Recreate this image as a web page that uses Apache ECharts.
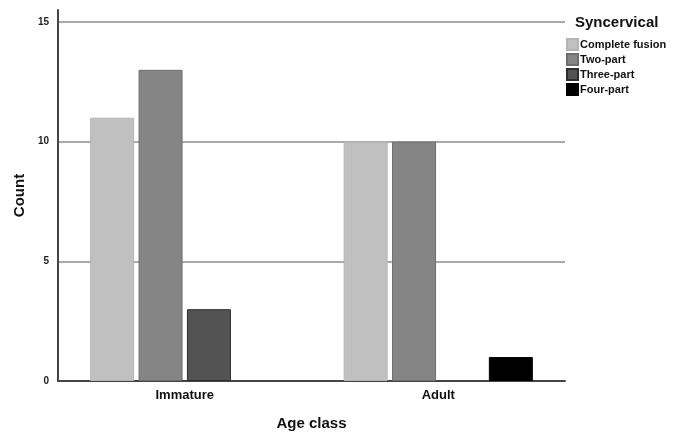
<!DOCTYPE html>
<html>
<head>
<meta charset="utf-8">
<script src="https://cdn.jsdelivr.net/npm/echarts@6/dist/echarts.min.js"></script>
<style>
  html, body { margin: 0; padding: 0; background: #fff; }
</style>
</head>
<body>
<div id="chart" style="width: 677px;height: 436px"></div>
<script>
  const categories = ['Immature', 'Adult'];
  const seriesNames = ['Complete fusion', 'Two-part', 'Three-part', 'Four-part'];
  const completeFusion = [11, 10];
  const twoPart = [13, 10];
  const threePart = [3, 0];
  const fourPart = [0, 1];
  const yTicks = [0, 5, 10, 15];

  const colors = ['#c0c0c0', '#858585', '#535353', '#000000'];
  const borders = ['#b4b4b4', '#6e6e6e', '#2e2e2e', '#000000'];
  const values = [completeFusion, twoPart, threePart, fourPart];

  let chart = echarts.init(document.getElementById('chart'));

  let option = {
    animation: false,
    textStyle: { fontFamily: 'Liberation Sans, Arial, sans-serif' },
    title: {
      text: 'Syncervical',
      left: 570,
      top: 10,
      textStyle: { fontSize: 15, fontWeight: 'bold', color: '#111' }
    },
    legend: {
      data: seriesNames,
      orient: 'vertical',
      left: 561,
      top: 33,
      itemWidth: 11,
      itemHeight: 11,
      itemGap: 2,
      icon: 'rect',
      textStyle: { fontSize: 11, fontWeight: 'bold', color: '#111', padding: [0, 0, 0, -3] }
    },
    grid: {
      left: 58,
      right: 112,
      top: 10,
      bottom: 50
    },
    xAxis: {
      type: 'category',
      data: categories,
      name: 'Age class',
      nameLocation: 'middle',
      nameGap: 35,
      nameTextStyle: { fontSize: 15, fontWeight: 'bold', color: '#111' },
      axisLine: { lineStyle: { color: '#444', width: 2 } },
      axisTick: { show: false },
      axisLabel: { fontSize: 13, fontWeight: 'bold', color: '#111', margin: 8 }
    },
    yAxis: {
      type: 'value',
      min: 0,
      max: 15.5,
      interval: 5,
      name: 'Count',
      nameLocation: 'middle',
      nameGap: 29,
      nameTextStyle: { fontSize: 15, fontWeight: 'bold', color: '#111' },
      axisLine: { show: true, lineStyle: { color: '#444', width: 2 } },
      axisTick: { show: false },
      axisLabel: {
        fontSize: 10,
        fontWeight: 'bold',
        color: '#222',
        margin: 9,
        showMaxLabel: false,
        formatter: function (v) { return yTicks.indexOf(v) >= 0 ? v : ''; }
      },
      splitLine: { show: true, showMaxLine: false, showMinLine: false, lineStyle: { color: '#aaa', width: 2 } }
    },
    series: seriesNames.map(function (name, i) {
      return {
        name: name,
        type: 'bar',
        // 0 counts get no border so no stray line sits on the axis
        data: values[i].map(function (v) {
          return v === 0 ? { value: v, itemStyle: { borderWidth: 0 } } : v;
        }),
        barWidth: 44,
        barGap: '10%',
        itemStyle: { color: colors[i], borderColor: borders[i], borderWidth: 1 }
      };
    })
  };

  chart.setOption(option);
</script>
</body>
</html>
